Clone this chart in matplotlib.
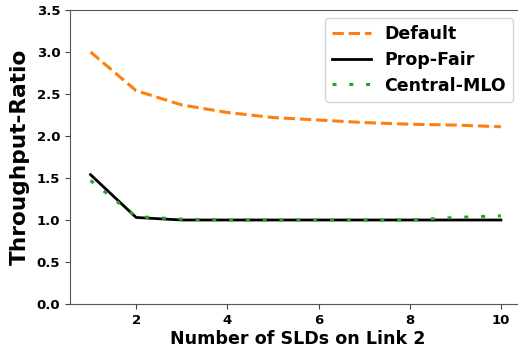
import matplotlib
matplotlib.use('Agg')
import matplotlib.pyplot as plt

num_slds = [1, 2, 3, 4, 5, 6, 7, 8, 9, 10]
default_ratio = [3.00, 2.54, 2.37, 2.28, 2.22, 2.19, 2.16, 2.14, 2.13, 2.11]
prop_fair_ratio = [1.54, 1.03, 1.00, 1.00, 1.00, 1.00, 1.00, 1.00, 1.00, 1.00]
central_mlo_ratio = [1.47, 1.04, 1.01, 1.00, 1.00, 1.00, 1.00, 1.00, 1.03, 1.05]

plt.rcParams['font.weight'] = 'bold'
fig = plt.figure(figsize=(5.18, 3.58), dpi=100)
# axes run past the right edge, like the cropped original
ax = fig.add_axes([70 / 518, 54 / 358, 456 / 518, 294 / 358])

ax.plot(num_slds, default_ratio, color='#ff7f0e', linestyle='--', linewidth=2.2, label='Default')
ax.plot(num_slds, prop_fair_ratio, color='black', linestyle='-', linewidth=2.0, label='Prop-Fair')
ax.plot(num_slds, central_mlo_ratio, color='#2ca02c', linestyle=(0, (1.3, 4.2)), linewidth=2.2,
        label='Central-MLO')

ax.set_ylim(0, 3.5)
ax.set_xlim(0.55, 10.55)
ax.set_xticks([2, 4, 6, 8, 10])
ax.set_yticks([0.0, 0.5, 1.0, 1.5, 2.0, 2.5, 3.0, 3.5])
ax.tick_params(labelsize=9.5, color='#444444')
for lbl in ax.get_xticklabels() + ax.get_yticklabels():
    lbl.set_fontweight('bold')
for s in ax.spines.values():
    s.set_color('#555555')
ax.spines['right'].set_visible(False)
ax.patch.set_edgecolor('none')

ax.set_xlabel('Number of SLDs on Link 2', fontsize=12.6, fontweight='bold', labelpad=2)
ax.set_ylabel('Throughput-Ratio', fontsize=15.6, fontweight='bold', labelpad=5)
ax.legend(loc='upper right', bbox_to_anchor=(513 / 518, 1 - 18 / 358), bbox_transform=fig.transFigure,
          borderaxespad=0, prop={'size': 12.5, 'weight': 'bold'}, handlelength=2.2, labelspacing=0.45)

fig.savefig('out.png', dpi=100, facecolor='white')
